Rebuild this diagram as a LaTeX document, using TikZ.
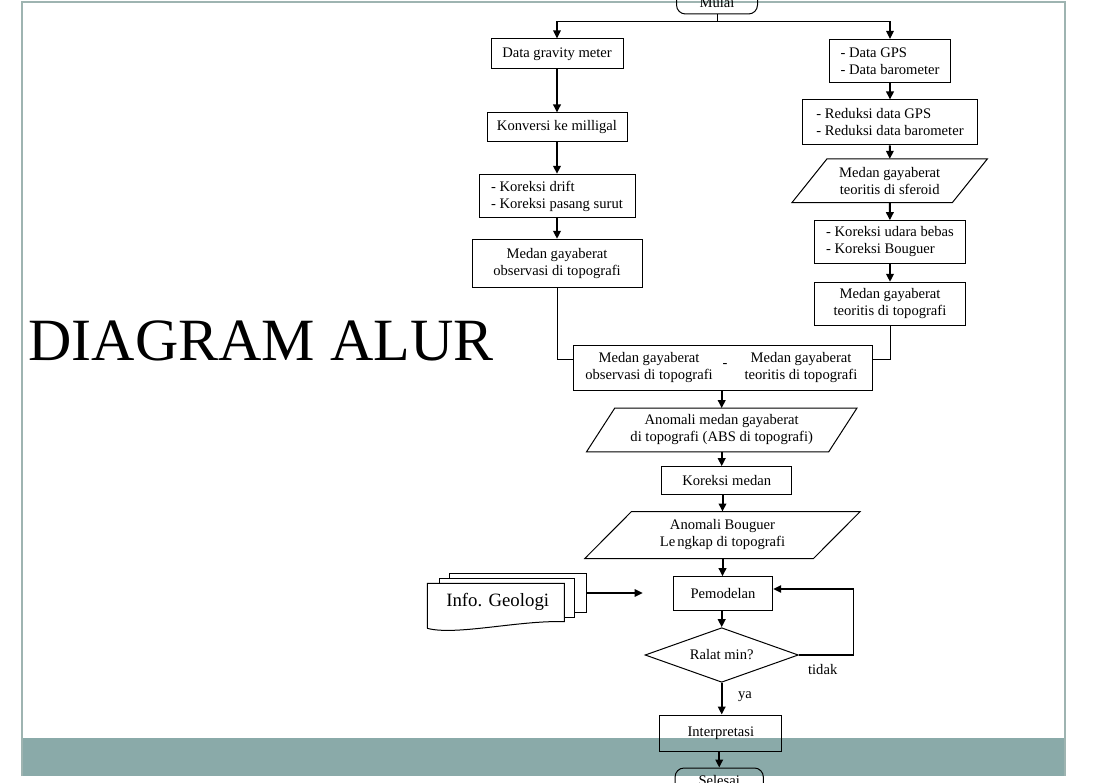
\documentclass[tikz,border=0pt]{standalone}
\usepackage{fontspec}
\setmainfont{Liberation Serif}
\usetikzlibrary{calc,arrows.meta,shapes.geometric}

\definecolor{slideteal}{RGB}{138,170,169}
\definecolor{slideframe}{RGB}{158,180,177}

\def\boxfont{\fontsize{14.6}{17}\selectfont}

\tikzset{
	box/.style={draw, line width=1pt, inner sep=2pt, font=\boxfont, align=center},
	iotext/.style={inner sep=0pt, font=\boxfont, align=center},
	boxline/.style={line width=1pt},
	txt/.style={inner sep=0pt, font=\boxfont, align=center},
	link/.style={line width=1pt},
	flow/.style={line width=2pt, -{Triangle[length=8pt,width=7.5pt]}},
	thinflow/.style={line width=1.2pt, -{Triangle[length=8pt,width=7.5pt]}},
}

% parallelogram: [name](position)(slant:width:height){text}
\def\iobox[#1](#2)(#3:#4:#5)#6{%
	\node[iotext, minimum width=#4, minimum height=#5] (#1) at (#2) {#6};
	\draw[boxline] ($(#1.south west)+(-0.5*#3,0)$) -- ($(#1.south east)+(-0.5*#3,0)$)
		-- ($(#1.north east)+(0.5*#3,0)$) -- ($(#1.north west)+(0.5*#3,0)$) -- cycle;}

\begin{document}
\begin{tikzpicture}[x=1pt,y=-1pt]
			%%%%% SLIDE %%%%%
			\useasboundingbox (0,0) rectangle (1097,783);
			\clip (0,0) rectangle (1097,783);
			
			\fill[slideteal] (21.5,738) rectangle (1064.5,776);
			\draw[slideframe, line width=2pt] (21.5,776) -- (21.5,2) -- (1064.5,2) -- (1064.5,776);
			
			\node[anchor=base west, inner sep=0pt, font=\fontsize{60}{60}\selectfont] (title) at (28.3,360) {DIAGRAM ALUR};
			
			%%%%% LEFT COLUMN %%%%%
			\node[box, rounded corners=9pt, minimum width=81, minimum height=26, text height=13pt, text depth=0pt] (mulai) at (717,1) {Mulai};
			\coordinate (fork) at (717,21.7);
			
			\node[box, minimum width=132, minimum height=30] (gravity) at (557,54) {Data gravity meter};
			\node[box, minimum width=140, minimum height=28.7] (konversi) at (557,127.3) {Konversi ke milligal};
			\node[box, minimum width=156, minimum height=43.4, align=left] (drift) at (557,196) {- Koreksi drift\\- Koreksi pasang surut};
			\node[box, minimum width=170, minimum height=47.7] (obs) at (557,263.2) {Medan gayaberat\\observasi di topografi};
			
			%%%%% RIGHT COLUMN %%%%%
			\node[box, minimum width=120.7, minimum height=43.2, align=left] (gps) at (890,61.1) {- Data GPS\\- Data barometer};
			\node[box, minimum width=175, minimum height=45, align=left] (reduksi) at (890,122.5) {- Reduksi data GPS\\- Reduksi data barometer};
			\iobox[sferoid](889.7,180.7)(35:160:43.3){Medan gayaberat\\teoritis di sferoid}
			\node[box, minimum width=151, minimum height=42.6, align=left] (udara) at (890,242) {- Koreksi udara bebas\\- Koreksi Bouguer};
			\node[box, minimum width=151, minimum height=42.7] (teoritis) at (890,303.7) {Medan gayaberat\\teoritis di topografi};
			
			%%%%% CENTRE %%%%%
			\node[box, minimum width=299.7, minimum height=45.7] (combined) at (723,367.9) {};
			\node[txt] (obstext) at (649,367.9) {Medan gayaberat\\observasi di topografi};
			\node[txt] (minus) at (725,365.5) {-};
			\node[txt] (teotext) at (801,367.9) {Medan gayaberat\\teoritis di topografi};
			
			\iobox[abs](721.7,430)(28.3:241.8:43.4){Anomali medan gayaberat\\di topografi (ABS di topografi)}
			\node[box, minimum width=130, minimum height=27.6] (medan) at (726.7,480.5) {Koreksi medan};
			\iobox[bouguer](722.5,535)(46.7:228.3:46.6){\fontsize{14.6}{23}\selectfont Anomali Bouguer\\Le\hspace{2pt}ngkap di topografi}
			\node[box, minimum width=99.4, minimum height=34] (pemodelan) at (723,593.7) {Pemodelan};
			\node[box, diamond, aspect=2.8, inner sep=0pt, minimum width=153.3, minimum height=54.6] (ralat) at (721.7,655) {Ralat min?};
			\node[box, minimum width=121.7, minimum height=36] (interp) at (720.8,733) {Interpretasi};
			\node[box, rounded corners=9pt, minimum width=88.3, minimum height=26] (selesai) at (719.2,781) {Selesai};
			
			\node[txt] (ya) at (745,696.7) {ya};
			\node[txt] (tidak) at (822.7,669.3) {tidak};
			
			%%%%% INFO GEOLOGI %%%%%
			\node[draw, line width=1pt, fill=white, minimum width=136.7, minimum height=39.4] (infoback) at (517.7,593) {};
			\node[draw, line width=1pt, fill=white, minimum width=135.3, minimum height=39] (infomid) at (506.7,597.8) {};
			\draw[boxline, fill=white] (427.3,628.3) -- (427.3,583.3) -- (564.3,583.3) -- (564.3,621.7)
				.. controls (520,620) and (455,636) .. (427.3,628.3);
			\node[inner sep=0pt, font=\fontsize{18.8}{21}\selectfont] (info) at (497.7,601.7) {Info. Geologi};
			\coordinate (infoend) at (642.7,593);
			
			%%%%% CONNECTORS %%%%%
			\draw[link] (mulai.south) -- (fork);
			\draw[thinflow] (fork) -| (gravity.north);
			\draw[thinflow] (fork) -| (gps.north);
			
			\draw[flow] (gravity) -- (konversi);
			\draw[flow] (konversi) -- (drift);
			\draw[flow] (drift) -- (obs);
			
			\draw[flow] (gps) -- (reduksi);
			\draw[flow] (reduksi) -- (sferoid);
			\draw[flow] (sferoid) -- (udara);
			\draw[flow] (udara) -- (teoritis);
			
			\draw[link] (obs) |- ([yshift=8pt]combined.west);
			\draw[link] (teoritis) |- ([yshift=8pt]combined.east);
			
			\draw[flow] (abs.north |- combined.south) -- (abs);
			\draw[flow] (abs) -- (abs |- medan.north);
			\draw[flow] (bouguer.north |- medan.south) -- (bouguer);
			\draw[flow] (bouguer) -- (bouguer |- pemodelan.north);
			\draw[flow] (ralat.north |- pemodelan.south) -- (ralat);
			\draw[flow] (ralat) -- (ralat |- interp.north);
			\draw[flow] (selesai.north |- interp.south) -- (selesai);
			
			\draw[thinflow] (ralat.east) -- ++(54.4,0) |- ([yshift=4.7pt]pemodelan.east);
			\draw[thinflow] (infoback) -- (infoend);
			
\end{tikzpicture}
\end{document}
